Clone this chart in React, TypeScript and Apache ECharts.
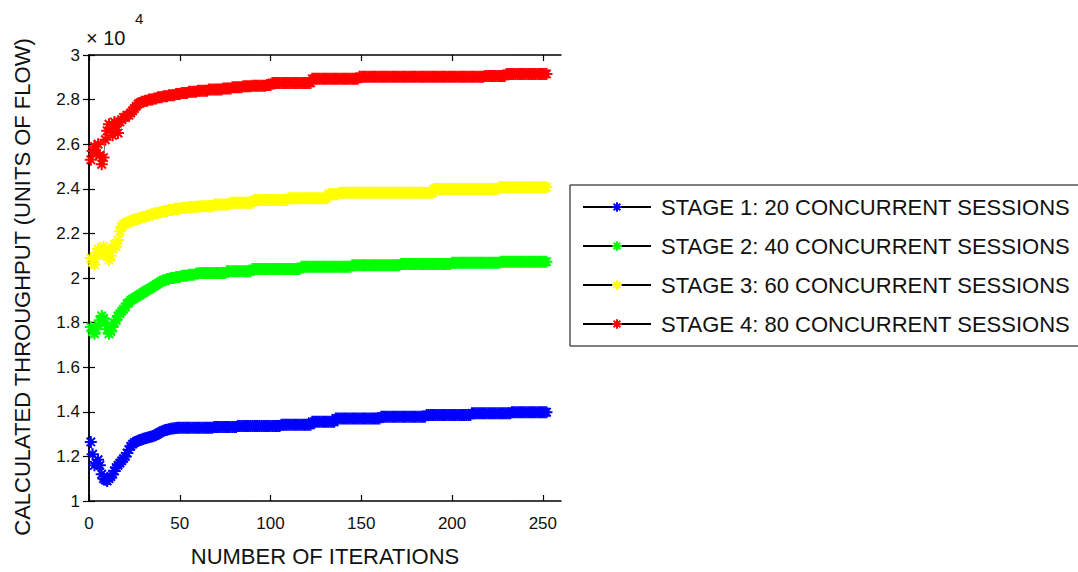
import React, { useEffect, useRef } from "react";
import * as echarts from "echarts";

// Legend entries and marker colours
const seriesNames = [
  "STAGE 1: 20 CONCURRENT SESSIONS",
  "STAGE 2: 40 CONCURRENT SESSIONS",
  "STAGE 3: 60 CONCURRENT SESSIONS",
  "STAGE 4: 80 CONCURRENT SESSIONS",
];
const seriesColors = ["#0000ff", "#00ff00", "#ffff00", "#ff0000"];

// Tick labels
const xTicks = [0, 50, 100, 150, 200, 250];
const yTicks = [1, 1.2, 1.4, 1.6, 1.8, 2, 2.2, 2.4, 2.6, 2.8, 3];

// Calculated throughput (x 10^4 units of flow), one value per iteration 1..252
const stage1 = [
  1.265, 1.21, 1.16, 1.17, 1.185, 1.16, 1.12, 1.10, 1.095, 1.09,
  1.10, 1.11, 1.12, 1.135, 1.15, 1.16, 1.17, 1.18, 1.19, 1.20,
  1.215, 1.23, 1.245, 1.255, 1.262, 1.266, 1.27, 1.273, 1.276, 1.279,
  1.281, 1.284, 1.286, 1.288, 1.29, 1.293, 1.297, 1.302, 1.307, 1.311,
  1.315, 1.318, 1.32, 1.322, 1.324, 1.325, 1.326, 1.327, 1.328, 1.328,
  1.328, 1.328, 1.328, 1.328, 1.328, 1.328, 1.328, 1.328, 1.328, 1.328,
  1.328, 1.328, 1.328, 1.328, 1.328, 1.328, 1.328, 1.328, 1.332, 1.332,
  1.332, 1.332, 1.332, 1.332, 1.332, 1.332, 1.332, 1.332, 1.332, 1.332,
  1.332, 1.336, 1.336, 1.336, 1.336, 1.336, 1.336, 1.336, 1.336, 1.336,
  1.336, 1.336, 1.336, 1.336, 1.336, 1.336, 1.336, 1.336, 1.336, 1.336,
  1.336, 1.336, 1.336, 1.336, 1.336, 1.342, 1.342, 1.342, 1.342, 1.342,
  1.342, 1.342, 1.342, 1.342, 1.342, 1.342, 1.342, 1.342, 1.342, 1.342,
  1.342, 1.342, 1.355, 1.355, 1.355, 1.355, 1.355, 1.355, 1.355, 1.355,
  1.355, 1.355, 1.355, 1.355, 1.355, 1.37, 1.37, 1.37, 1.37, 1.37,
  1.37, 1.37, 1.37, 1.37, 1.37, 1.37, 1.37, 1.37, 1.37, 1.37,
  1.37, 1.37, 1.37, 1.37, 1.37, 1.37, 1.37, 1.37, 1.37, 1.37,
  1.378, 1.378, 1.378, 1.378, 1.378, 1.378, 1.378, 1.378, 1.378, 1.378,
  1.378, 1.378, 1.378, 1.378, 1.378, 1.378, 1.378, 1.378, 1.378, 1.378,
  1.378, 1.378, 1.378, 1.378, 1.378, 1.386, 1.386, 1.386, 1.386, 1.386,
  1.386, 1.386, 1.386, 1.386, 1.386, 1.386, 1.386, 1.386, 1.386, 1.386,
  1.386, 1.386, 1.386, 1.386, 1.386, 1.386, 1.386, 1.386, 1.386, 1.386,
  1.393, 1.393, 1.393, 1.393, 1.393, 1.393, 1.393, 1.393, 1.393, 1.393,
  1.393, 1.393, 1.393, 1.393, 1.393, 1.393, 1.393, 1.393, 1.393, 1.393,
  1.393, 1.393, 1.398, 1.398, 1.398, 1.398, 1.398, 1.398, 1.398, 1.398,
  1.398, 1.398, 1.398, 1.398, 1.398, 1.398, 1.398, 1.398, 1.398, 1.398,
  1.398, 1.398,
];

const stage2 = [
  1.78, 1.76, 1.75, 1.77, 1.79, 1.81, 1.83, 1.82, 1.80, 1.77,
  1.75, 1.76, 1.78, 1.80, 1.81, 1.83, 1.84, 1.85, 1.86, 1.87,
  1.885, 1.89, 1.90, 1.905, 1.91, 1.915, 1.92, 1.925, 1.93, 1.935,
  1.94, 1.945, 1.95, 1.955, 1.96, 1.965, 1.97, 1.975, 1.98, 1.985,
  1.99, 1.99, 1.995, 1.995, 2.00, 2.00, 2.00, 2.005, 2.005, 2.005,
  2.01, 2.01, 2.01, 2.01, 2.015, 2.015, 2.015, 2.015, 2.02, 2.02,
  2.022, 2.022, 2.022, 2.022, 2.022, 2.022, 2.022, 2.022, 2.022, 2.022,
  2.022, 2.022, 2.022, 2.022, 2.022, 2.03, 2.03, 2.03, 2.03, 2.03,
  2.03, 2.03, 2.03, 2.03, 2.03, 2.03, 2.03, 2.03, 2.03, 2.04,
  2.04, 2.04, 2.04, 2.04, 2.04, 2.04, 2.04, 2.04, 2.04, 2.04,
  2.04, 2.04, 2.04, 2.04, 2.04, 2.04, 2.04, 2.04, 2.04, 2.04,
  2.04, 2.04, 2.04, 2.04, 2.04, 2.04, 2.05, 2.05, 2.05, 2.05,
  2.05, 2.05, 2.05, 2.05, 2.05, 2.05, 2.05, 2.05, 2.05, 2.05,
  2.05, 2.05, 2.05, 2.05, 2.05, 2.05, 2.05, 2.05, 2.05, 2.05,
  2.05, 2.05, 2.05, 2.05, 2.057, 2.057, 2.057, 2.057, 2.057, 2.057,
  2.057, 2.057, 2.057, 2.057, 2.057, 2.057, 2.057, 2.057, 2.057, 2.057,
  2.057, 2.057, 2.057, 2.057, 2.057, 2.057, 2.057, 2.057, 2.057, 2.057,
  2.057, 2.063, 2.063, 2.063, 2.063, 2.063, 2.063, 2.063, 2.063, 2.063,
  2.063, 2.063, 2.063, 2.063, 2.063, 2.063, 2.063, 2.063, 2.063, 2.063,
  2.063, 2.063, 2.063, 2.063, 2.063, 2.063, 2.063, 2.063, 2.063, 2.068,
  2.068, 2.068, 2.068, 2.068, 2.068, 2.068, 2.068, 2.068, 2.068, 2.068,
  2.068, 2.068, 2.068, 2.068, 2.068, 2.068, 2.068, 2.068, 2.068, 2.068,
  2.068, 2.068, 2.068, 2.068, 2.068, 2.068, 2.073, 2.073, 2.073, 2.073,
  2.073, 2.073, 2.073, 2.073, 2.073, 2.073, 2.073, 2.073, 2.073, 2.073,
  2.073, 2.073, 2.073, 2.073, 2.073, 2.073, 2.073, 2.073, 2.073, 2.073,
  2.073, 2.073,
];

const stage3 = [
  2.09, 2.07, 2.06, 2.10, 2.13, 2.12, 2.11, 2.14, 2.12, 2.10,
  2.08, 2.10, 2.13, 2.15, 2.14, 2.17, 2.21, 2.23, 2.24, 2.245,
  2.25, 2.25, 2.255, 2.26, 2.26, 2.265, 2.265, 2.27, 2.27, 2.275,
  2.275, 2.28, 2.28, 2.285, 2.285, 2.29, 2.29, 2.29, 2.295, 2.295,
  2.30, 2.30, 2.30, 2.305, 2.305, 2.305, 2.31, 2.31, 2.31, 2.31,
  2.315, 2.315, 2.315, 2.315, 2.318, 2.318, 2.318, 2.32, 2.32, 2.32,
  2.322, 2.322, 2.322, 2.322, 2.322, 2.322, 2.322, 2.322, 2.33, 2.33,
  2.33, 2.33, 2.33, 2.33, 2.33, 2.33, 2.33, 2.338, 2.338, 2.338,
  2.338, 2.338, 2.338, 2.338, 2.338, 2.338, 2.338, 2.338, 2.338, 2.338,
  2.35, 2.35, 2.35, 2.35, 2.35, 2.35, 2.35, 2.35, 2.35, 2.35,
  2.35, 2.35, 2.35, 2.35, 2.35, 2.35, 2.35, 2.35, 2.35, 2.358,
  2.358, 2.358, 2.358, 2.358, 2.358, 2.358, 2.358, 2.358, 2.358, 2.358,
  2.358, 2.358, 2.358, 2.358, 2.358, 2.358, 2.358, 2.358, 2.358, 2.358,
  2.358, 2.376, 2.376, 2.376, 2.376, 2.376, 2.376, 2.382, 2.382, 2.382,
  2.382, 2.382, 2.382, 2.382, 2.382, 2.382, 2.382, 2.382, 2.382, 2.382,
  2.382, 2.382, 2.382, 2.382, 2.382, 2.382, 2.382, 2.382, 2.382, 2.382,
  2.382, 2.382, 2.382, 2.382, 2.382, 2.382, 2.382, 2.382, 2.382, 2.382,
  2.382, 2.382, 2.382, 2.382, 2.382, 2.382, 2.382, 2.382, 2.382, 2.382,
  2.382, 2.382, 2.382, 2.382, 2.382, 2.382, 2.382, 2.382, 2.382, 2.399,
  2.399, 2.399, 2.399, 2.399, 2.399, 2.399, 2.399, 2.399, 2.399, 2.399,
  2.399, 2.399, 2.399, 2.399, 2.399, 2.399, 2.399, 2.399, 2.399, 2.399,
  2.399, 2.399, 2.399, 2.399, 2.399, 2.399, 2.399, 2.399, 2.399, 2.399,
  2.399, 2.399, 2.399, 2.399, 2.399, 2.407, 2.407, 2.407, 2.407, 2.407,
  2.407, 2.407, 2.407, 2.407, 2.407, 2.407, 2.407, 2.407, 2.407, 2.407,
  2.407, 2.407, 2.407, 2.407, 2.407, 2.407, 2.407, 2.407, 2.407, 2.407,
  2.407, 2.407,
];

const stage4 = [
  2.53, 2.57, 2.59, 2.56, 2.60, 2.55, 2.51, 2.54, 2.62, 2.66,
  2.69, 2.67, 2.64, 2.70, 2.68, 2.65, 2.70, 2.71, 2.72, 2.72,
  2.73, 2.73, 2.74, 2.75, 2.76, 2.77, 2.78, 2.785, 2.79, 2.79,
  2.795, 2.795, 2.80, 2.80, 2.80, 2.805, 2.805, 2.81, 2.81, 2.81,
  2.815, 2.815, 2.815, 2.82, 2.82, 2.82, 2.82, 2.825, 2.825, 2.825,
  2.83, 2.83, 2.83, 2.83, 2.835, 2.835, 2.835, 2.835, 2.835, 2.84,
  2.84, 2.84, 2.84, 2.84, 2.84, 2.845, 2.845, 2.845, 2.845, 2.845,
  2.845, 2.845, 2.845, 2.85, 2.85, 2.85, 2.85, 2.85, 2.855, 2.855,
  2.855, 2.855, 2.855, 2.855, 2.86, 2.86, 2.86, 2.86, 2.86, 2.862,
  2.862, 2.862, 2.862, 2.862, 2.862, 2.862, 2.862, 2.865, 2.865, 2.865,
  2.875, 2.875, 2.875, 2.875, 2.875, 2.875, 2.875, 2.875, 2.875, 2.875,
  2.875, 2.875, 2.875, 2.875, 2.875, 2.875, 2.875, 2.875, 2.875, 2.875,
  2.875, 2.875, 2.893, 2.893, 2.893, 2.893, 2.893, 2.893, 2.893, 2.893,
  2.893, 2.893, 2.893, 2.893, 2.893, 2.893, 2.893, 2.893, 2.893, 2.893,
  2.893, 2.893, 2.893, 2.893, 2.893, 2.893, 2.893, 2.893, 2.902, 2.902,
  2.902, 2.902, 2.902, 2.902, 2.902, 2.902, 2.902, 2.902, 2.902, 2.902,
  2.902, 2.902, 2.902, 2.902, 2.902, 2.902, 2.902, 2.902, 2.902, 2.902,
  2.902, 2.902, 2.902, 2.902, 2.902, 2.902, 2.902, 2.902, 2.902, 2.902,
  2.902, 2.902, 2.902, 2.902, 2.902, 2.902, 2.902, 2.902, 2.902, 2.902,
  2.902, 2.902, 2.902, 2.902, 2.902, 2.902, 2.902, 2.902, 2.902, 2.902,
  2.902, 2.902, 2.902, 2.902, 2.902, 2.902, 2.902, 2.902, 2.902, 2.902,
  2.902, 2.902, 2.902, 2.902, 2.902, 2.902, 2.902, 2.906, 2.906, 2.906,
  2.906, 2.906, 2.906, 2.906, 2.906, 2.906, 2.906, 2.906, 2.906, 2.915,
  2.915, 2.915, 2.915, 2.915, 2.915, 2.915, 2.915, 2.915, 2.915, 2.915,
  2.915, 2.915, 2.915, 2.915, 2.915, 2.915, 2.915, 2.915, 2.915, 2.915,
  2.915, 2.915,
];

const stageValues = [stage1, stage2, stage3, stage4];

const FONT = "'Liberation Sans', Arial, Helvetica, sans-serif";
const TEXT = "#111111";
const ASTERISK = "path://M5,0L5,10M0,5L10,5M1.5,1.5L8.5,8.5M8.5,1.5L1.5,8.5";

export default function App() {
  const ref = useRef<HTMLDivElement>(null);

  useEffect(() => {
    if (!ref.current) return;
    const chart = echarts.init(ref.current, undefined, { renderer: "svg" });

    const axisLine = { show: true, lineStyle: { color: "#000", width: 1.5 } };
    const tick = { show: true, inside: true, length: 6, lineStyle: { color: "#000", width: 1.2 } };

    const option: any = {
      animation: false,
      backgroundColor: "#ffffff",
      grid: { left: 89, top: 55, width: 472, height: 448, containLabel: false },
      legend: {
        orient: "vertical",
        left: 570,
        top: 185,
        data: seriesNames,
        itemWidth: 68,
        itemHeight: 12,
        itemGap: 17,
        padding: [11, 9, 11, 12],
        borderColor: "#000",
        borderWidth: 1,
        backgroundColor: "#fff",
        textStyle: {
          fontFamily: FONT,
          fontSize: 22,
          lineHeight: 22,
          color: TEXT,
          padding: [0, 0, 0, 5],
        },
      },
      xAxis: [
        {
          type: "value",
          position: "bottom",
          min: 0,
          max: 260,
          interval: 50,
          axisLine,
          axisTick: { ...tick, customValues: xTicks },
          axisLabel: {
            customValues: xTicks,
            margin: 14,
            fontFamily: FONT,
            fontSize: 17,
            color: TEXT,
            formatter: (v: number) => (xTicks.includes(v) ? String(v) : ""),
          },
          splitLine: { show: false },
          name: "NUMBER OF ITERATIONS",
          nameLocation: "middle",
          nameGap: 44,
          nameTextStyle: { fontFamily: FONT, fontSize: 22, color: TEXT },
        },
        {
          type: "value",
          position: "top",
          min: 0,
          max: 260,
          interval: 50,
          axisLine,
          axisTick: { ...tick, customValues: xTicks },
          axisLabel: { show: false },
          splitLine: { show: false },
        },
      ],
      yAxis: [
        {
          type: "value",
          position: "left",
          min: 1,
          max: 3,
          interval: 0.2,
          axisLine,
          axisTick: tick,
          axisLabel: {
            margin: 9,
            fontFamily: FONT,
            fontSize: 17,
            color: TEXT,
            formatter: (v: number) => {
              const r = Math.round(v * 10) / 10;
              return yTicks.includes(r) ? String(r) : "";
            },
          },
          splitLine: { show: false },
        },
        {
          type: "value",
          position: "right",
          min: 1,
          max: 3,
          interval: 0.2,
          axisLine,
          axisTick: tick,
          axisLabel: { show: false },
          splitLine: { show: false },
        },
      ],
      graphic: [
        {
          type: "text",
          x: 22,
          y: 287,
          rotation: Math.PI / 2,
          style: {
            text: "CALCULATED THROUGHPUT (UNITS OF FLOW)",
            font: `22px ${FONT}`,
            fill: TEXT,
            align: "center",
            verticalAlign: "middle",
          },
        },
        {
          type: "text",
          x: 86,
          y: 38,
          style: {
            text: "× 10",
            font: `20px ${FONT}`,
            fill: TEXT,
            align: "left",
            verticalAlign: "middle",
          },
        },
        {
          type: "text",
          x: 135,
          y: 18,
          style: {
            text: "4",
            font: `15px ${FONT}`,
            fill: TEXT,
            align: "left",
            verticalAlign: "middle",
          },
        },
      ],
      series: stageValues.map((vals, s) => ({
        name: seriesNames[s],
        type: "line",
        xAxisIndex: 0,
        yAxisIndex: 0,
        data: vals.map((v, i) => [i + 1, v]),
        symbol: ASTERISK,
        symbolSize: 12,
        showSymbol: true,
        showAllSymbol: true,
        lineStyle: { color: "#000", width: 0.6 },
        itemStyle: {
          color: seriesColors[s],
          borderColor: seriesColors[s],
          borderWidth: 2,
        },
        emphasis: { disabled: true },
        z: 2 + s,
      })),
    };

    chart.setOption(option);
    return () => chart.dispose();
  }, []);

  return (
    <div
      ref={ref}
      style={{ position: "fixed", left: 0, top: 0, width: 1078, height: 572, background: "#fff" }}
    />
  );
}
